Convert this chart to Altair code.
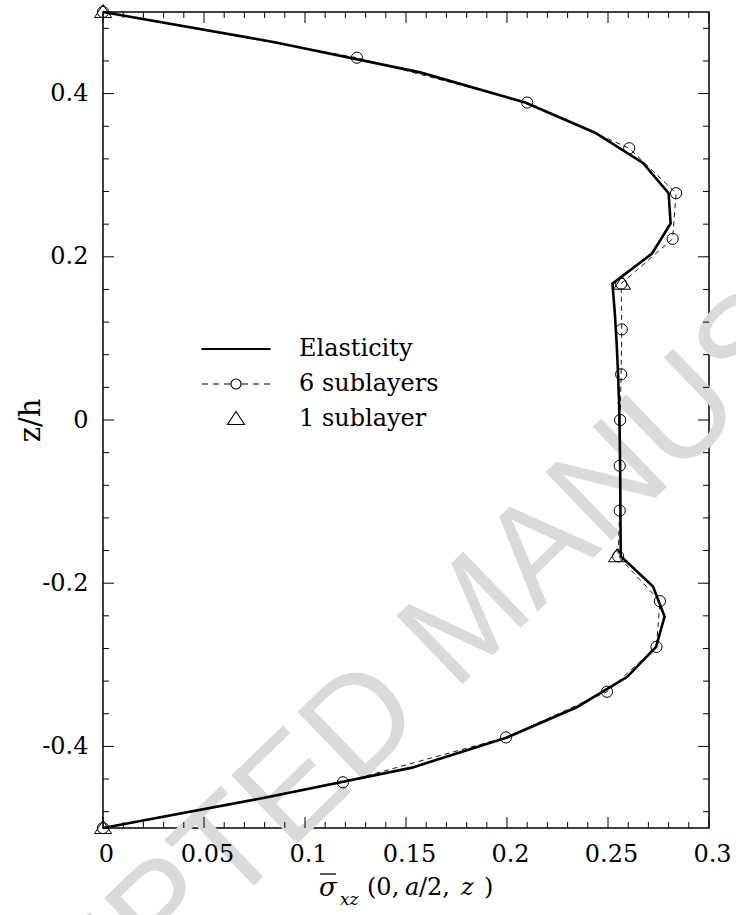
import altair as alt
import pandas as pd

# Transverse shear stress through the thickness (z/h) for three models
z_elastic = [0.5, 0.463, 0.426, 0.389, 0.352, 0.315, 0.278, 0.241, 0.204, 0.167,
             0.130, 0.093, 0.056, 0.019, -0.019, -0.056, -0.093, -0.130, -0.167,
             -0.204, -0.241, -0.278, -0.315, -0.352, -0.389, -0.426, -0.463, -0.5]
s_elastic = [0.0, 0.085, 0.157, 0.209, 0.2436, 0.2673, 0.2800, 0.2810, 0.2718, 0.2522,
             0.2534, 0.2543, 0.2550, 0.2555, 0.2558, 0.2560, 0.2561, 0.2562, 0.2563,
             0.2723, 0.2780, 0.2738, 0.2594, 0.2345, 0.2000, 0.1530, 0.0800, 0.0]

z_six = [0.5, 0.444, 0.389, 0.333, 0.278, 0.222, 0.167, 0.111, 0.056, 0.0,
         -0.056, -0.111, -0.167, -0.222, -0.278, -0.333, -0.389, -0.444, -0.5]
s_six = [0.0, 0.1257, 0.2100, 0.2605, 0.2837, 0.2820, 0.2565, 0.2568, 0.2565, 0.2560,
         0.2558, 0.2558, 0.2550, 0.2757, 0.2740, 0.2495, 0.1995, 0.1188, 0.0]

z_one = [0.5, 0.167, -0.167, -0.5]
s_one = [0.0, 0.2570, 0.2545, 0.0]

series_names = ["Elasticity", "6 sublayers", "1 sublayer"]

x_major = [0, 0.05, 0.1, 0.15, 0.2, 0.25, 0.3]
x_minor = [0.01, 0.02, 0.03, 0.04, 0.06, 0.07, 0.08, 0.09, 0.11, 0.12, 0.13, 0.14,
           0.16, 0.17, 0.18, 0.19, 0.21, 0.22, 0.23, 0.24, 0.26, 0.27, 0.28, 0.29]
y_major = [-0.4, -0.2, 0, 0.2, 0.4]
y_minor = [-0.48, -0.44, -0.36, -0.32, -0.28, -0.24, -0.16, -0.12, -0.08, -0.04,
           0.04, 0.08, 0.12, 0.16, 0.24, 0.28, 0.32, 0.36, 0.44, 0.48]

watermark = "ACCEPTED MANUSCRIPT"

W, H = 606, 816
FONT = "DejaVu Serif"
MAJOR, MINOR = 11, 6

xscale = alt.Scale(domain=[0, 0.3], nice=False, zero=False)
yscale = alt.Scale(domain=[-0.5, 0.5], nice=False, zero=False)

# One axis definition per direction, shared by every layer so they merge cleanly;
# zindex keeps the labels above the background stamp
x_axis = alt.Axis(values=x_major, format="~g", ticks=False, domain=False, grid=False,
                  labelPadding=14, labelFontSize=24, labelFlush=False, labelOffset=3,
                  title=None, zindex=1)
y_axis = alt.Axis(values=y_major, ticks=False, domain=False, grid=False,
                  labelExpr="datum.value == 0 ? '0' : (datum.value < 0 ? '-' : '') + format(abs(datum.value), '.1f')",
                  labelPadding=15, labelFontSize=24,
                  title="z/h", titleFont=FONT, titleFontSize=29,
                  titleFontWeight="normal", titleColor="black",
                  titleAngle=270, titleAlign="center", titleBaseline="middle",
                  titleX=-73, titleY=408, zindex=1)

df_el = pd.DataFrame({"z": z_elastic, "s": s_elastic, "k": range(len(z_elastic))})
df_six = pd.DataFrame({"z": z_six, "s": s_six, "k": range(len(z_six))})
df_one = pd.DataFrame({"z": z_one, "s": s_one, "series": series_names[2]})

# Legend glyphs as SVG paths (unit = sqrt(size)/2 px)
path_line = "M-3.4,-0.05H3.4V0.05H-3.4Z"
path_dash = ("M-3.4,0H-2.8M-2.3,0H-1.7M-1.2,0H-0.5"
             "M-0.5,0A0.5,0.5 0 1,0 0.5,0A0.5,0.5 0 1,0 -0.5,0"
             "M0.5,0H1.2M1.7,0H2.3M2.8,0H3.4")
path_tri = "M0,-0.75L0.85,0.55L-0.85,0.55Z"


def xq(field):
    return alt.X(field, type="quantitative", scale=xscale, axis=x_axis)


def yq(field):
    return alt.Y(field, type="quantitative", scale=yscale, axis=y_axis)


def x_ticks(values, length):
    df = pd.DataFrame({"t": values})
    base = alt.Chart(df).mark_rule(color="black", strokeWidth=1)
    bottom = base.encode(x=xq("t"), y=alt.value(H), y2=alt.value(H - length))
    top = base.encode(x=xq("t"), y=alt.value(0), y2=alt.value(length))
    return [bottom, top]


def y_ticks(values, length):
    df = pd.DataFrame({"t": values})
    base = alt.Chart(df).mark_rule(color="black", strokeWidth=1)
    left = base.encode(y=yq("t"), x=alt.value(0), x2=alt.value(length))
    right = base.encode(y=yq("t"), x=alt.value(W), x2=alt.value(W - length))
    return [left, right]


def piece(text, x, y, size, italic=False):
    return alt.Chart(pd.DataFrame({"s": [text]})).mark_text(
        align="left", baseline="alphabetic", font=FONT, fontSize=size,
        fontStyle="italic" if italic else "normal", color="black"
    ).encode(x=alt.value(x), y=alt.value(y), text="s:N")


stamp = alt.Chart(pd.DataFrame({"s": [watermark]})).mark_text(
    align="center", baseline="middle", font="Liberation Sans", fontSize=138,
    angle=316, color="#dadada"
).encode(x=alt.value(367), y=alt.value(608), text="s:N")

elastic = alt.Chart(df_el).mark_line(color="black", strokeWidth=2.6).encode(
    x=xq("s"), y=yq("z"), order="k:Q"
)

dashed = alt.Chart(df_six).mark_line(color="black", strokeWidth=0.9, strokeDash=[5, 4]).encode(
    x=xq("s"), y=yq("z"), order="k:Q"
)

circles = alt.Chart(df_six).mark_point(shape="circle", filled=False, color="black",
                                       strokeWidth=1, size=125, opacity=1).encode(
    x=xq("s"), y=yq("z")
)

triangles = alt.Chart(df_one).mark_point(filled=False, color="black", strokeWidth=1,
                                         size=400, opacity=1).encode(
    x=xq("s"),
    y=yq("z"),
    shape=alt.Shape("series:N",
                    scale=alt.Scale(domain=series_names, range=[path_line, path_dash, path_tri]),
                    legend=alt.Legend(orient="none", legendX=121, legendY=325, title=None,
                                      padding=0, labelFont=FONT, labelFontSize=24,
                                      labelColor="black", labelOffset=51, rowPadding=11,
                                      symbolSize=400, symbolStrokeWidth=1.1,
                                      symbolStrokeColor="black")),
)

overline = alt.Chart(pd.DataFrame({"s": [0]})).mark_rule(color="black", strokeWidth=1.3).encode(
    x=alt.value(217), x2=alt.value(233), y=alt.value(862)
)

title_parts = [
    piece("σ", 216, 884, 26, italic=True),
    overline,
    piece("xz", 237, 893, 17, italic=True),
    piece("(0, ", 264, 883, 24),
    piece("a", 302, 883, 24, italic=True),
    piece("/2, ", 316, 883, 24),
    piece("z", 358, 883, 24, italic=True),
    piece(")", 381, 883, 24),
]

layers = ([stamp]
          + x_ticks(x_major, MAJOR) + x_ticks(x_minor, MINOR)
          + y_ticks(y_major, MAJOR) + y_ticks(y_minor, MINOR)
          + [elastic, dashed, circles, triangles] + title_parts)

chart = alt.layer(*layers).properties(
    width=W, height=H,
    autosize=alt.AutoSizeParams(type="none"),
    padding={"left": 103, "top": 12, "right": 27, "bottom": 87},
    background="white",
).configure_view(
    stroke="black", strokeWidth=1.5
).configure_axis(
    labelFont=FONT, labelColor="black", titleFontWeight="normal"
)

chart.save("out.html", embed_options={"renderer": "svg", "actions": False})
